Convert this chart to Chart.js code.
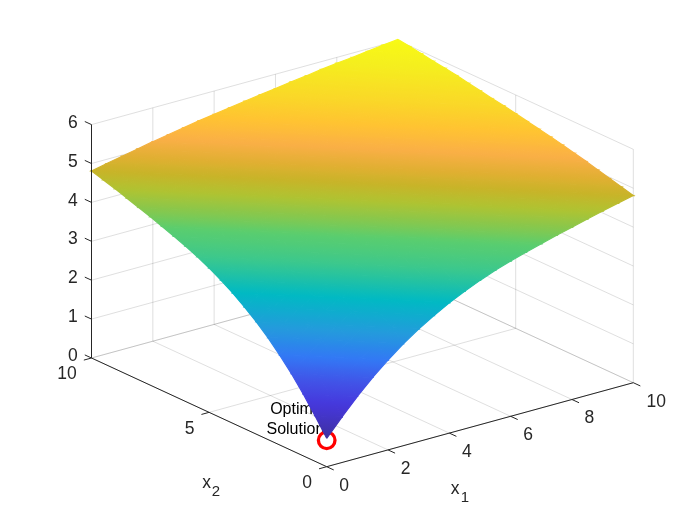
<!DOCTYPE html>
<html><head><meta charset="utf-8">
<style>html,body{margin:0;padding:0;background:#fff}canvas{display:block}</style>
<script src="https://cdn.jsdelivr.net/npm/chart.js@4"></script>
</head><body><canvas id="c" width="700" height="525"></canvas>
<script>
const x1Nodes = [0,0.5,1,1.5,2,2.5,3,3.5,4,4.5,5,5.5,6,6.5,7,7.5,8,8.5,9,9.5,10];
const x2Nodes = [0,0.5,1,1.5,2,2.5,3,3.5,4,4.5,5,5.5,6,6.5,7,7.5,8,8.5,9,9.5,10];
const surfaceZ = [
[0.73,1.17,1.59,1.97,2.31,2.62,2.89,3.13,3.35,3.54,3.71,3.86,3.99,4.11,4.22,4.33,4.43,4.53,4.63,4.72,4.81],
[1.17,1.59,1.97,2.31,2.62,2.89,3.13,3.35,3.54,3.71,3.86,3.99,4.11,4.22,4.33,4.43,4.53,4.63,4.72,4.81,4.89],
[1.59,1.97,2.31,2.62,2.89,3.13,3.35,3.54,3.71,3.86,3.99,4.11,4.22,4.33,4.43,4.53,4.63,4.72,4.81,4.89,4.97],
[1.97,2.31,2.62,2.89,3.13,3.35,3.54,3.71,3.86,3.99,4.11,4.22,4.33,4.43,4.53,4.63,4.72,4.81,4.89,4.97,5.05],
[2.31,2.62,2.89,3.13,3.35,3.54,3.71,3.86,3.99,4.11,4.22,4.33,4.43,4.53,4.63,4.72,4.81,4.89,4.97,5.05,5.13],
[2.62,2.89,3.13,3.35,3.54,3.71,3.86,3.99,4.11,4.22,4.33,4.43,4.53,4.63,4.72,4.81,4.89,4.97,5.05,5.13,5.20],
[2.89,3.13,3.35,3.54,3.71,3.86,3.99,4.11,4.22,4.33,4.43,4.53,4.63,4.72,4.81,4.89,4.97,5.05,5.13,5.20,5.27],
[3.13,3.35,3.54,3.71,3.86,3.99,4.11,4.22,4.33,4.43,4.53,4.63,4.72,4.81,4.89,4.97,5.05,5.13,5.20,5.27,5.34],
[3.35,3.54,3.71,3.86,3.99,4.11,4.22,4.33,4.43,4.53,4.63,4.72,4.81,4.89,4.97,5.05,5.13,5.20,5.27,5.34,5.40],
[3.54,3.71,3.86,3.99,4.11,4.22,4.33,4.43,4.53,4.63,4.72,4.81,4.89,4.97,5.05,5.13,5.20,5.27,5.34,5.40,5.46],
[3.71,3.86,3.99,4.11,4.22,4.33,4.43,4.53,4.63,4.72,4.81,4.89,4.97,5.05,5.13,5.20,5.27,5.34,5.40,5.46,5.52],
[3.86,3.99,4.11,4.22,4.33,4.43,4.53,4.63,4.72,4.81,4.89,4.97,5.05,5.13,5.20,5.27,5.34,5.40,5.46,5.52,5.58],
[3.99,4.11,4.22,4.33,4.43,4.53,4.63,4.72,4.81,4.89,4.97,5.05,5.13,5.20,5.27,5.34,5.40,5.46,5.52,5.58,5.63],
[4.11,4.22,4.33,4.43,4.53,4.63,4.72,4.81,4.89,4.97,5.05,5.13,5.20,5.27,5.34,5.40,5.46,5.52,5.58,5.63,5.69],
[4.22,4.33,4.43,4.53,4.63,4.72,4.81,4.89,4.97,5.05,5.13,5.20,5.27,5.34,5.40,5.46,5.52,5.58,5.63,5.69,5.74],
[4.33,4.43,4.53,4.63,4.72,4.81,4.89,4.97,5.05,5.13,5.20,5.27,5.34,5.40,5.46,5.52,5.58,5.63,5.69,5.74,5.80],
[4.43,4.53,4.63,4.72,4.81,4.89,4.97,5.05,5.13,5.20,5.27,5.34,5.40,5.46,5.52,5.58,5.63,5.69,5.74,5.80,5.85],
[4.53,4.63,4.72,4.81,4.89,4.97,5.05,5.13,5.20,5.27,5.34,5.40,5.46,5.52,5.58,5.63,5.69,5.74,5.80,5.85,5.89],
[4.63,4.72,4.81,4.89,4.97,5.05,5.13,5.20,5.27,5.34,5.40,5.46,5.52,5.58,5.63,5.69,5.74,5.80,5.85,5.89,5.94],
[4.72,4.81,4.89,4.97,5.05,5.13,5.20,5.27,5.34,5.40,5.46,5.52,5.58,5.63,5.69,5.74,5.80,5.85,5.89,5.94,5.99],
[4.81,4.89,4.97,5.05,5.13,5.20,5.27,5.34,5.40,5.46,5.52,5.58,5.63,5.69,5.74,5.80,5.85,5.89,5.94,5.99,6.03]
];
const x1Ticks = [0,2,4,6,8,10];
const x2Ticks = [0,5,10];
const zTicks = [0,1,2,3,4,5,6];
const optimum = {x1:0, x2:0, z:0.68};
const annotation = ["Optimal","Solution"];

// orthographic view of the 3-D box, mapped to the flat helper scales
const view = {ox:326.7, oy:466.7, x1x:30.66, x1y:-8.4, x2x:-23.52, x2y:-10.87, zy:-38.9};
function project(a,b,z){
  return {x:view.ox+a*view.x1x+b*view.x2x, y:view.oy+a*view.x1y+b*view.x2y+z*view.zy};
}
// colour map stops: [position, r, g, b]
const colormap = [[0,62,48,160],[.126,70,55,220],[.215,65,85,232],[.296,50,120,245],[.39,35,155,220],
 [.496,0,185,195],[.59,60,200,140],[.655,90,205,110],[.69,130,200,80],[.734,175,195,50],[.77,200,180,40],
 [.80,225,175,50],[.836,250,175,70],[.875,255,195,50],[.913,250,215,40],[.966,245,238,30],[1,248,250,20]];
const zMin=0.73, zMax=6.03;
function color(z){
  const t=Math.max(0,Math.min(1,(z-zMin)/(zMax-zMin)));
  let i=0; while(i<colormap.length-2 && colormap[i+1][0]<t) i++;
  const a=colormap[i],b=colormap[i+1],f=(t-a[0])/(b[0]-a[0]);
  return `rgb(${[1,2,3].map(k=>Math.round(a[k]+(b[k]-a[k])*f)).join(',')})`;
}
function triGradient(chart,pts,zs){
  const X=chart.scales.x,Y=chart.scales.y;
  const p=pts.map(q=>({x:X.getPixelForValue(q.x),y:Y.getPixelForValue(q.y)}));
  const dx1=p[1].x-p[0].x,dy1=p[1].y-p[0].y,dz1=zs[1]-zs[0];
  const dx2=p[2].x-p[0].x,dy2=p[2].y-p[0].y,dz2=zs[2]-zs[0];
  const det=dx1*dy2-dx2*dy1;
  const gx=(dz1*dy2-dz2*dy1)/det, gy=(dx1*dz2-dx2*dz1)/det;
  const g2=gx*gx+gy*gy;
  if(!isFinite(g2)||g2<1e-12) return color(zs[0]);
  const lo=Math.min(...zs),hi=Math.max(...zs);
  const k=(hi-lo)/g2;
  const im=zs.indexOf(lo);
  const grad=chart.ctx.createLinearGradient(p[im].x,p[im].y,p[im].x+gx*k,p[im].y+gy*k);
  const n=3;
  for(let i=0;i<=n;i++) grad.addColorStop(i/n,color(lo+(hi-lo)*i/n));
  return grad;
}
const datasets=[];
function lineSet(a,b,col,order,w){
  datasets.push({data:[project(...a),project(...b)],showLine:true,borderColor:col,borderWidth:w||1,
    pointRadius:0,fill:false,order});
}
const gridCol='rgba(38,38,38,0.15)', axisCol='#262626';
x1Ticks.forEach(v=>{ lineSet([v,0,0],[v,10,0],gridCol,100000); lineSet([v,10,0],[v,10,6],gridCol,100000); });
x2Ticks.forEach(v=>{ lineSet([0,v,0],[10,v,0],gridCol,100000); lineSet([10,v,0],[10,v,6],gridCol,100000); });
zTicks.forEach(v=>{ lineSet([0,10,v],[10,10,v],gridCol,100000); lineSet([10,0,v],[10,10,v],gridCol,100000); });
datasets.push({data:[project(optimum.x1,optimum.x2,optimum.z)],showLine:false,pointRadius:8.3,pointBorderWidth:3.3,
  pointBorderColor:'#ff0000',pointBackgroundColor:'rgba(0,0,0,0)',order:90000});
// surface triangles, far to near
const tris=[];
for(let j=0;j<x2Nodes.length-1;j++)for(let i=0;i<x1Nodes.length-1;i++){
  const v=(a,b)=>[x1Nodes[a],x2Nodes[b],surfaceZ[b][a]];
  tris.push([v(i,j),v(i+1,j),v(i,j+1)]);
  tris.push([v(i+1,j+1),v(i+1,j),v(i,j+1)]);
}
tris.sort((s,t)=>(t[0][0]+t[0][1]+t[1][0]+t[1][1]+t[2][0]+t[2][1])-(s[0][0]+s[0][1]+s[1][0]+s[1][1]+s[2][0]+s[2][1]));
tris.forEach((t,k)=>{
  const pts=t.map(v=>project(...v)), zs=t.map(v=>v[2]);
  const paint=ctx=>triGradient(ctx.chart,pts,zs);
  datasets.push({data:[pts[0],pts[1],pts[2],pts[0]],showLine:true,fill:'shape',backgroundColor:paint,borderColor:paint,
    borderWidth:1.2,pointRadius:0,order:50000-k});
});
// box axes and ticks
lineSet([0,0,0],[10,0,0],axisCol,5);
lineSet([0,0,0],[0,10,0],axisCol,5);
lineSet([0,10,0],[0,10,6],axisCol,5);
x1Ticks.forEach(v=>lineSet([v,0,0],[v,-0.3,0],axisCol,5));
x2Ticks.forEach(v=>lineSet([0,v,0],[-0.25,v,0],axisCol,5));
zTicks.forEach(v=>lineSet([0,10,v],[0,10.285,v],axisCol,5));

function put(c,s,x,y,font,col,al){c.font=font;c.fillStyle=col;c.textAlign=al||'center';c.textBaseline='middle';c.fillText(s,x,y);}
const FONT='"Liberation Sans", Arial, sans-serif';
const labelPlugin={id:'labels',
  beforeDatasetsDraw(chart){
    const c=chart.ctx;c.save();
    const a=project(optimum.x1,optimum.x2,optimum.z);
    put(c,annotation[0],a.x-29,a.y-30.3,'16px '+FONT,'#000');
    put(c,annotation[1],a.x-31.3,a.y-10.3,'16px '+FONT,'#000');
    c.restore();
  },
  afterDatasetsDraw(chart){
    const c=chart.ctx;c.save();
    const f='17.5px '+FONT;
    zTicks.forEach(v=>{const p=project(0,10,v);put(c,String(v),p.x-18.7,p.y-1.7,f,axisCol);});
    x1Ticks.forEach(v=>{const p=project(v,0,0);put(c,String(v),p.x+(v==10?23:17.5),p.y+19,f,axisCol);});
    x2Ticks.forEach(v=>{const p=project(0,v,0);put(c,String(v),p.x-(v==10?24.5:19.5),p.y+16.5,f,axisCol);});
    put(c,'x',455,489,f,axisCol);put(c,'1',465,498,'15px '+FONT,axisCol);
    put(c,'x',206.5,483,f,axisCol);put(c,'2',216,492,'15px '+FONT,axisCol);
    c.restore();
  }};
new Chart(document.getElementById('c'),{type:'scatter',data:{datasets},plugins:[labelPlugin],
 options:{responsive:false,animation:false,devicePixelRatio:1,
  layout:{padding:0,autoPadding:false},events:[],
  plugins:{legend:{display:false},tooltip:{enabled:false},title:{display:false}},
  scales:{x:{type:'linear',min:0,max:700,display:false},y:{type:'linear',min:0,max:525,reverse:true,display:false}}}});
</script></body></html>
